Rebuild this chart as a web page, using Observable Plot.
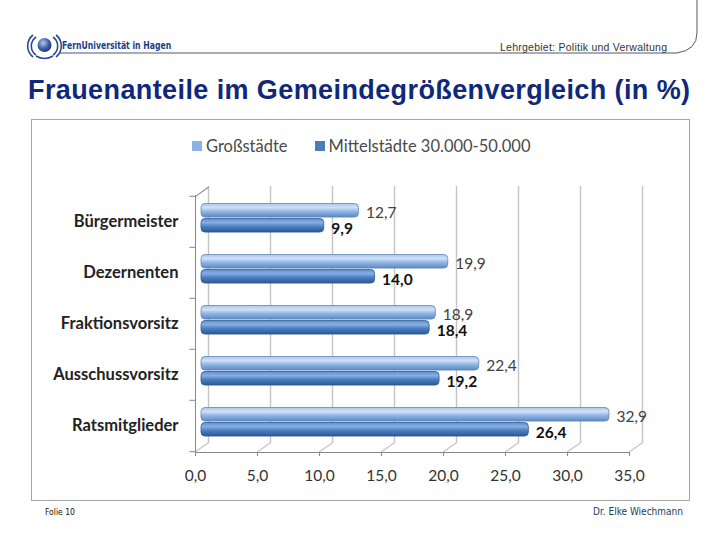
<!DOCTYPE html>
<html><head><meta charset="utf-8">
<script src="https://cdn.jsdelivr.net/npm/d3@7"></script>
<script src="https://cdn.jsdelivr.net/npm/@observablehq/plot@0.6"></script>
<style>
body{margin:0;background:#fff;}
#page{position:relative;width:720px;height:540px;overflow:hidden;background:#fff;}
#deco{position:absolute;left:0;top:0;}
#uni{position:absolute;left:62px;top:39px;font-family:"DejaVu Sans Condensed","DejaVu Sans",sans-serif;font-weight:bold;font-size:11px;color:#1b3f86;transform:scaleX(0.78);transform-origin:left top;white-space:nowrap;}
#lehr{position:absolute;left:500px;top:41px;font-family:"Liberation Sans",Arial,sans-serif;font-size:10.5px;color:#333;letter-spacing:0.25px;white-space:nowrap;}
#title{position:absolute;left:28px;top:76.5px;line-height:27px;font-family:"Liberation Sans",Arial,sans-serif;font-weight:bold;font-size:27px;letter-spacing:0.4px;color:#10287a;white-space:nowrap;}
#box{position:absolute;left:31px;top:119px;width:657px;height:380px;border:1px solid #a6a6a6;}
#legend{position:absolute;left:192px;top:136px;font-family:Lato,sans-serif;font-size:16.5px;color:#4a4a4a;display:flex;gap:27px;}
#legend span.item{display:flex;align-items:center;}
#legend i{display:inline-block;width:10px;height:10px;margin-right:4px;}
#chart{position:absolute;left:31px;top:185px;}
#foot1{position:absolute;left:45px;top:507px;font-family:"DejaVu Sans Condensed",sans-serif;font-size:8.5px;color:#111;}
#foot2{position:absolute;right:37px;top:506px;font-family:"DejaVu Sans Condensed",sans-serif;font-size:10px;color:#1d3c5c;}
#chart svg [aria-label^="y-axis"] text{font-weight:bold;fill:#222;font-size:16.5px;}
#chart svg [aria-label^="x-axis"] text{fill:#333;}
</style></head>
<body><div id="page">
<svg id="deco" width="720" height="120">
  <path d="M60,53 L677,53 Q697,50 697,33 L697,0" fill="none" stroke="#4a5a70" stroke-width="1"/>
  <defs><radialGradient id="ball" cx="0.4" cy="0.35" r="0.7"><stop offset="0" stop-color="#b9c7e6"/><stop offset="0.6" stop-color="#3b5ea8"/><stop offset="1" stop-color="#1a2f6e"/></radialGradient></defs>
  <circle cx="44.5" cy="45" r="7" fill="url(#ball)"/>
  <path d="M36,37 A11,11 0 0,0 36,55 M33,35 A14,14 0 0,0 33,57 M53,37 A11,11 0 0,1 53,55 M56,35 A14,14 0 0,1 56,57 M36,56 Q44.5,61 53,56" fill="none" stroke="#2b4a94" stroke-width="1.6"/>
</svg>
<div id="uni">FernUniversität in Hagen</div>
<div id="lehr">Lehrgebiet: Politik und Verwaltung</div>
<div id="title">Frauenanteile im Gemeindegrößenvergleich (in %)</div>
<div id="box"></div>
<div id="legend"></div>
<div id="chart"></div>
<div id="foot1">Folie 10</div>
<div id="foot2">Dr. Elke Wiechmann</div>
</div>
<script>
const categories = ["Bürgermeister", "Dezernenten", "Fraktionsvorsitz", "Ausschussvorsitz", "Ratsmitglieder"];
const grossstaedte = [12.7, 19.9, 18.9, 22.4, 32.9];
const mittelstaedte = [9.9, 14.0, 18.4, 19.2, 26.4];
const seriesNames = ["Großstädte", "Mittelstädte 30.000-50.000"];
const xTicks = [0, 5, 10, 15, 20, 25, 30, 35];

const fmt = d => d.toFixed(1).replace(".", ",");
const rowsG = categories.map((c, i) => ({cat: c, v: grossstaedte[i]}));
const rowsM = categories.map((c, i) => ({cat: c, v: mittelstaedte[i]}));

// legend
const legendColors = ["#8db3e2", "#4a7ebb"];
document.getElementById("legend").innerHTML = seriesNames.map((s, i) =>
  `<span class="item"><i style="background:${legendColors[i]}"></i>${s}</span>`).join("");

const W = 658, H = 315;
const band = (H - 10 - 48) / categories.length;
const axisGray = "#868686";

const plot = Plot.plot({
  width: W, height: H,
  marginLeft: 164, marginRight: 60, marginTop: 10, marginBottom: 48,
  style: {fontFamily: "Lato, sans-serif", fontSize: "15.5px", background: "transparent", color: axisGray},
  x: {domain: [0, 35], ticks: xTicks, tickFormat: fmt, tickSize: 4, tickPadding: 13, line: true, label: null},
  y: {domain: categories, padding: 0, tickSize: 0, tickPadding: 17, label: null},
  marks: [
    // back-wall gridlines (3D depth offset)
    Plot.ruleX(xTicks, {stroke: "#c4c4c4", strokeWidth: 1.4, dx: 13, dy: -9}),
    // floor diagonals
    Plot.vector(xTicks, {x: d => d, y: () => categories[categories.length - 1], dy: band / 2, length: 15.8, rotate: 55, anchor: "start", stroke: "#c4c4c4", strokeWidth: 1.2, r: 0}),
    // top-left diagonal
    Plot.vector([0], {x: d => d, y: () => categories[0], dy: -band / 2, length: 15.8, rotate: 55, anchor: "start", stroke: axisGray, strokeWidth: 1, r: 0}),
    // front left axis
    Plot.ruleX([0], {stroke: axisGray}),
    // category boundary ticks
    Plot.ruleY(categories, {y: d => d, dy: -band / 2, x1: -0.45, x2: 0, stroke: axisGray}),
    Plot.ruleY([categories[categories.length - 1]], {y: d => d, dy: band / 2, x1: -0.45, x2: 0, stroke: axisGray}),
    // bars
    Plot.barX(rowsG, {x: "v", y: "cat", insetTop: 7.5, insetBottom: band - 21.5, fill: "url(#gLight)", stroke: "#5f88bd", strokeWidth: 0.8, rx: 4, dx: 6}),
    Plot.barX(rowsM, {x: "v", y: "cat", insetTop: 22.5, insetBottom: band - 36.5, fill: "url(#gDark)", stroke: "#2f5b92", strokeWidth: 0.8, rx: 4, dx: 6}),
    // value labels
    Plot.text(rowsG, {x: "v", y: "cat", text: d => fmt(d.v), textAnchor: "start", dx: 13, dy: -9, fill: "#404040", fontSize: 15.5}),
    Plot.text(rowsM, {x: "v", y: "cat", text: d => fmt(d.v), textAnchor: "start", dx: 13, dy: 7, fill: "#111", fontSize: 15.5, fontWeight: "bold"})
  ]
});

const ns = "http://www.w3.org/2000/svg";
const defs = document.createElementNS(ns, "defs");
defs.innerHTML = `
<linearGradient id="gLight" x1="0" y1="0" x2="0" y2="1">
  <stop offset="0" stop-color="#a9c6ec"/><stop offset="0.3" stop-color="#cfe0f6"/><stop offset="0.6" stop-color="#8fb4e3"/><stop offset="1" stop-color="#5d88c2"/>
</linearGradient>
<linearGradient id="gDark" x1="0" y1="0" x2="0" y2="1">
  <stop offset="0" stop-color="#5f8fd0"/><stop offset="0.3" stop-color="#86aee3"/><stop offset="0.6" stop-color="#4a7dc0"/><stop offset="1" stop-color="#2c5892"/>
</linearGradient>`;
plot.insertBefore(defs, plot.firstChild);
document.getElementById("chart").appendChild(plot);
</script>
</body></html>
